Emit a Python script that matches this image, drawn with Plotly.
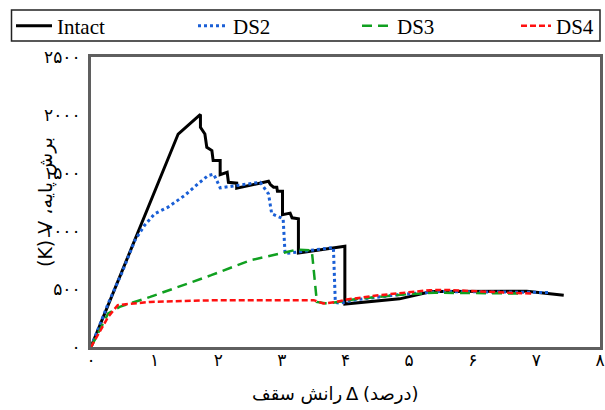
import plotly.graph_objects as go

# ---------------- data ----------------
intact_x = [0, 1.37, 1.72, 1.72, 1.79, 1.82, 1.90, 1.92, 2.03, 2.03, 2.14, 2.16, 2.29, 2.29, 2.79, 2.82, 2.87, 2.92, 2.93, 3.01, 3.01, 3.13, 3.16, 3.26, 3.26, 3.99, 3.99, 4.85, 5.35, 6.85, 7.43]
intact_y = [0, 1836, 2005, 1893, 1836, 1721, 1693, 1607, 1607, 1486, 1506, 1420, 1412, 1369, 1429, 1400, 1377, 1377, 1343, 1343, 1140, 1154, 1114, 1106, 810, 868, 370, 415, 478, 480, 447]

ds2_x = [0, 0.27, 0.48, 0.69, 0.84, 1.0, 1.21, 1.47, 1.68, 1.84, 1.93, 2.03, 2.29, 2.66, 2.79, 2.84, 3.02, 3.05, 3.81, 3.84, 3.91, 4.2, 4.9, 5.5, 7.2]
ds2_y = [0, 375, 633, 919, 1048, 1149, 1205, 1306, 1406, 1478, 1490, 1372, 1392, 1420, 1320, 1149, 1106, 805, 858, 385, 378, 410, 455, 478, 470]

ds3_x = [0, 0.27, 0.45, 0.93, 1.89, 2.5, 3.08, 3.23, 3.47, 3.55, 3.71, 4.2, 4.9, 5.4, 6.75]
ds3_y = [0, 289, 346, 432, 619, 747, 819, 839, 833, 389, 375, 415, 452, 468, 461]

ds4_x = [0, 0.27, 0.42, 0.74, 0.93, 2.0, 3.13, 3.5, 3.65, 3.86, 4.02, 4.54, 5.33, 5.6, 6.64, 6.95]
ds4_y = [0, 260, 361, 375, 389, 404, 404, 404, 375, 389, 410, 447, 490, 492, 466, 461]

x_ticks = [0, 1, 2, 3, 4, 5, 6, 7, 8]
x_ticktext = ["۰", "۱", "۲", "۳", "۴", "۵", "۶", "۷", "۸"]
y_ticks = [0, 500, 1000, 1500, 2000, 2500]
y_ticktext = ["۰", "۵۰۰", "۱۰۰۰", "۱۵۰۰", "۲۰۰۰", "۲۵۰۰"]

# x-axis title "رانش سقف Δ (درصد)" placed as three pieces (visual left -> right)
x_title_words = "رانش سقف"
x_title_delta = "Δ"
x_title_unit = "(درصد)"
y_title = "(K) V ،برش پایه"

W, H = 605, 410
ML, MR, MT, MB = 91, 5, 57, 63
PW, PH = W - ML - MR, H - MT - MB

serif = "Liberation Serif"
arab = "DejaVu Sans, sans-serif"

fig = go.Figure()
fig.add_trace(go.Scatter(x=intact_x, y=intact_y, mode="lines", name="Intact",
                         line=dict(color="black", width=3), legend="legend"))
fig.add_trace(go.Scatter(x=ds2_x, y=ds2_y, mode="lines", name="DS2",
                         line=dict(color="#1a5fd6", width=3, dash="dot"), legend="legend2"))
fig.add_trace(go.Scatter(x=ds3_x, y=ds3_y, mode="lines", name="DS3",
                         line=dict(color="#10a020", width=2.5, dash="10px,6px"), legend="legend3"))
fig.add_trace(go.Scatter(x=ds4_x, y=ds4_y, mode="lines", name="DS4",
                         line=dict(color="#ff1010", width=2.5, dash="6px,3px"), legend="legend4"))

def leg(xpix, itemwidth=30):
    return dict(x=xpix / W, xref="container", xanchor="left",
                y=1 - 26 / H, yref="container", yanchor="middle",
                bgcolor="rgba(0,0,0,0)", borderwidth=0, itemwidth=itemwidth,
                font=dict(family=serif, size=21, color="black"))

def px_x(p):
    return (p - ML) / PW

def px_y(p):
    return (H - MB - p) / PH

title_y = px_y(393)

fig.update_layout(
    width=W, height=H,
    margin=dict(l=ML, r=MR, t=MT, b=MB, autoexpand=False),
    paper_bgcolor="white", plot_bgcolor="white",
    showlegend=True,
    legend=leg(11, 36), legend2=leg(193), legend3=leg(357), legend4=leg(516),
    xaxis=dict(range=[0, 8], tickvals=x_ticks, ticktext=x_ticktext,
               showgrid=False, zeroline=False, showline=True, mirror=True,
               linecolor="#5f5f5f", linewidth=3, ticks="", ticklabelstandoff=-4,
               tickfont=dict(family=arab, size=17, color="black")),
    yaxis=dict(range=[0, 2500], tickvals=y_ticks, ticktext=y_ticktext,
               showgrid=False, zeroline=False, showline=True, mirror=True,
               linecolor="#5f5f5f", linewidth=3, ticks="", ticklabelstandoff=4,
               tickfont=dict(family=arab, size=17, color="black")),
    shapes=[dict(type="rect", xref="paper", yref="paper",
                 x0=px_x(11.5), x1=1.0, y0=px_y(41), y1=px_y(10),
                 line=dict(color="#222", width=1.5), fillcolor="rgba(0,0,0,0)")],
    annotations=[
        dict(text=x_title_words, xref="paper", yref="paper", x=px_x(344), y=title_y,
             showarrow=False, xanchor="right", yanchor="middle",
             font=dict(family=arab, size=18, color="black")),
        dict(text=x_title_delta, xref="paper", yref="paper", x=px_x(352), y=title_y,
             showarrow=False, xanchor="center", yanchor="middle",
             font=dict(family=arab, size=18, color="black")),
        dict(text=x_title_unit, xref="paper", yref="paper", x=px_x(361), y=title_y,
             showarrow=False, xanchor="left", yanchor="middle",
             font=dict(family=arab, size=18, color="black")),
        dict(text=y_title, xref="paper", yref="paper", x=px_x(45), y=0.5,
             textangle=-90, showarrow=False, xanchor="center", yanchor="middle",
             font=dict(family=arab, size=19, color="black")),
    ],
)

fig.write_html("out.html")
